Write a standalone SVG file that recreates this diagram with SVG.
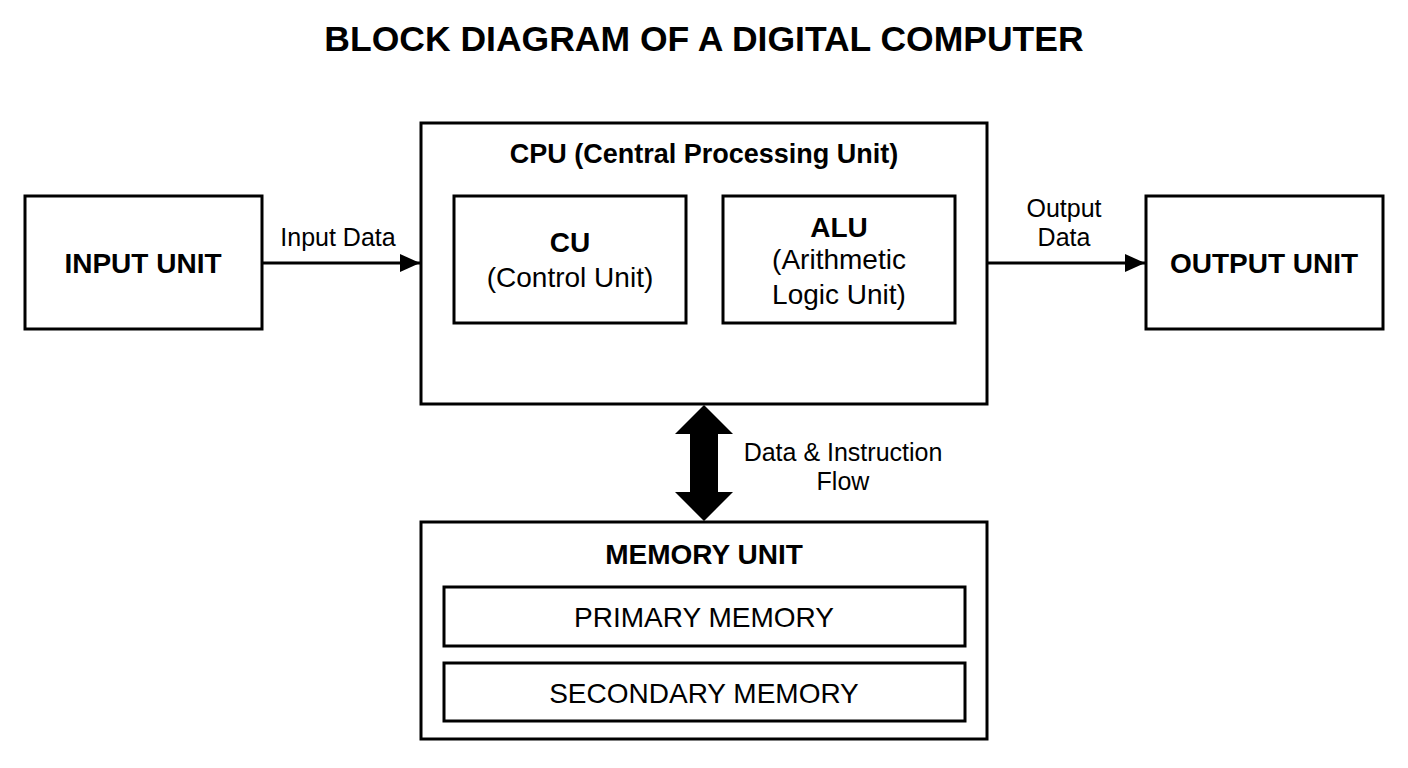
<svg xmlns="http://www.w3.org/2000/svg" width="1408" height="768" viewBox="0 0 1408 768">
<style>
rect{fill:#fff;stroke:#000;stroke-width:3}
text{font-family:"Liberation Sans",Arial,sans-serif;text-anchor:middle;fill:#000}
.b{font-weight:bold}
.l{font-size:25px}
.m{font-size:28px}
</style>
<defs><marker id="a" markerWidth="20" markerHeight="18" refX="20" refY="9" orient="auto" markerUnits="userSpaceOnUse"><path d="M0,0 L20,9 L0,18 z" fill="#000"/></marker></defs>
<rect x="0" y="0" width="1408" height="768" style="stroke:none"/>
<text class="b" x="704" y="51" font-size="35.5">BLOCK DIAGRAM OF A DIGITAL COMPUTER</text>
<g id="input"><rect x="25" y="196" width="237" height="133"/><text class="b m" x="143" y="273">INPUT UNIT</text></g>
<g id="cpu"><rect x="421" y="123" width="566" height="281"/><text class="b" font-size="27" x="704" y="163">CPU (Central Processing Unit)</text></g>
<g id="cu"><rect x="454" y="196" width="232" height="127"/><text class="b m" x="570" y="252">CU</text><text class="m" x="570" y="287">(Control Unit)</text></g>
<g id="alu"><rect x="723" y="196" width="232" height="127"/><text class="b m" x="839" y="237">ALU</text><text class="m" x="839" y="269">(Arithmetic</text><text class="m" x="839" y="304">Logic Unit)</text></g>
<g id="output"><rect x="1146" y="196" width="237" height="133"/><text class="b m" x="1264" y="273">OUTPUT UNIT</text></g>
<g id="memory"><rect x="421" y="522" width="566" height="217"/><text class="b m" x="704" y="564">MEMORY UNIT</text>
<rect x="444" y="587" width="521" height="59"/><text class="m" x="704" y="627">PRIMARY MEMORY</text>
<rect x="444" y="663" width="521" height="58"/><text class="m" x="704" y="703">SECONDARY MEMORY</text></g>
<g id="connectors">
<line x1="262" y1="263" x2="420" y2="263" stroke="#000" stroke-width="3" marker-end="url(#a)"/>
<line x1="987" y1="263" x2="1145" y2="263" stroke="#000" stroke-width="3" marker-end="url(#a)"/>
<path d="M704,405 L733,434 L718,434 L718,492 L733,492 L704,521 L675,492 L690,492 L690,434 L675,434 z" fill="#000"/>
<text class="l" x="338" y="246">Input Data</text>
<text class="l" x="1064" y="217">Output</text><text class="l" x="1064" y="246">Data</text>
<text class="l" x="843" y="461">Data &amp; Instruction</text><text class="l" x="843" y="490">Flow</text>
</g>
</svg>
